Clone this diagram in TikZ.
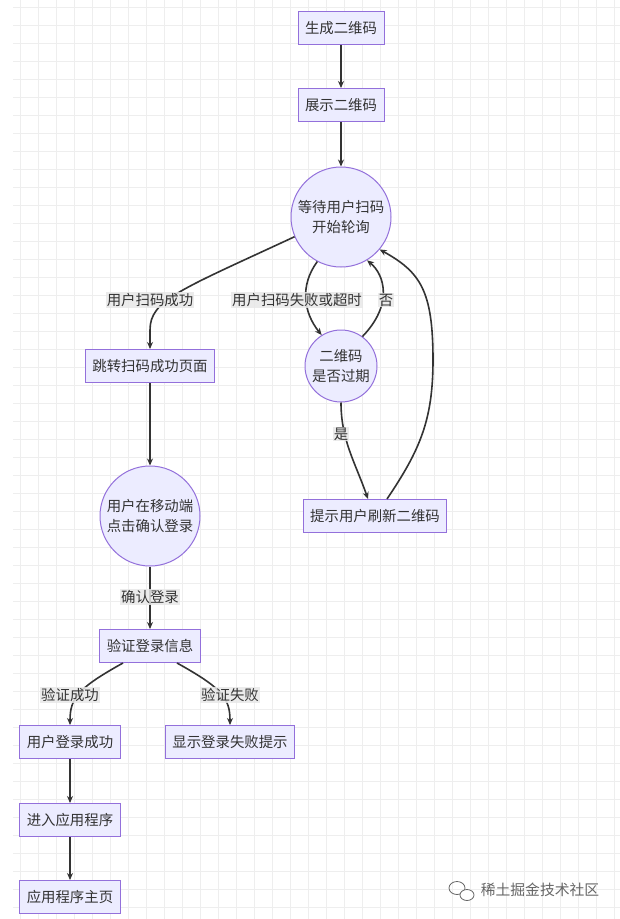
\documentclass[tikz,border=0pt]{standalone}
\usepackage{fontspec}
\newfontfamily\cjk{Noto Sans CJK SC}
\usetikzlibrary{arrows.meta}
\definecolor{nodefill}{HTML}{ECECFF}
\definecolor{nodeline}{HTML}{9370DB}
\definecolor{edgec}{HTML}{333333}
\definecolor{labfill}{HTML}{E8E8E8}
\definecolor{gridc}{HTML}{EEEEEE}
\definecolor{txt}{HTML}{333333}
\definecolor{wm}{HTML}{666666}
\begin{document}
\begin{tikzpicture}[x=1pt,y=-1pt,
 every node/.style={font=\cjk\fontsize{14.4}{20}\selectfont, text=txt},
 box/.style={draw=nodeline, fill=nodefill, line width=1pt, minimum height=33pt, inner xsep=7pt, inner ysep=0pt},
 circ/.style={draw=nodeline, fill=nodefill, line width=1pt, circle, inner sep=0pt, align=center},
 lab/.style={fill=labfill, fill opacity=0.85, text opacity=1, inner sep=1pt},
 conn/.style={draw=edgec, line width=1.6pt, -{Stealth[length=7pt,width=6pt]}},
 gridline/.style={draw=gridc, line width=0.8pt}
]
\useasboundingbox (0,0) rectangle (620,919);
\fill[white] (0,0) rectangle (620,919);
\foreach \x in {20,38,...,614} \draw[gridline] (\x,0) -- (\x,919);
\foreach \y in {7,25,...,907} \draw[gridline] (13,\y) -- (620,\y);

% nodes
\node[box] (gen) at (341,28) {生成二维码};
\node[box] (show) at (341,105) {展示二维码};
\node[circ, minimum size=100pt] (wait) at (341,217) {等待用户扫码\\开始轮询};
\node[box] (jump) at (150,366) {跳转扫码成功页面};
\node[circ, minimum size=72pt] (qr) at (341,366) {二维码\\是否过期};
\node[box] (refresh) at (375,516) {提示用户刷新二维码};
\node[circ, minimum size=100pt] (confirm) at (150,516) {用户在移动端\\点击确认登录};
\node[box] (verify) at (150,646) {验证登录信息};
\node[box] (ok) at (70,742) {用户登录成功};
\node[box] (fail) at (230,742) {显示登录失败提示};
\node[box] (enter) at (70,820) {进入应用程序};
\node[box] (home) at (70,897) {应用程序主页};

% edges
\draw[conn] (gen) -- (show);
\draw[conn] (show) -- (wait);
\draw[conn] (wait.203) .. controls (180,290) and (150,300) .. (150,330) -- (jump.north);
\draw[conn] (wait.242) .. controls (300,285) and (303,312) .. (qr.122);
\draw[conn] (qr.54) .. controls (393,305) and (385,275) .. (wait.301);
\draw[conn] (qr.south) .. controls (341,440) and (355,462) .. ([xshift=-7pt]refresh.north);
\draw[conn] ([xshift=12pt]refresh.north) .. controls (420,450) and (433,420) .. (433,360) .. controls (433,290) and (420,272) .. (wait.320);
\draw[conn] (jump) -- (confirm);
\draw[conn] (confirm) -- (verify);
\draw[conn] ([xshift=-27pt]verify.south) .. controls (78,688) and (70,698) .. (ok.north);
\draw[conn] ([xshift=27pt]verify.south) .. controls (222,688) and (230,698) .. (fail.north);
\draw[conn] (ok) -- (enter);
\draw[conn] (enter) -- (home);

% edge labels
\node[lab] (l1) at (150,300) {用户扫码成功};
\node[lab] (l2) at (297,300) {用户扫码失败或超时};
\node[lab] (l3) at (386,300) {否};
\node[lab] (l4) at (341,434) {是};
\node[lab] (l5) at (150,597) {确认登录};
\node[lab] (l6) at (70,695) {验证成功};
\node[lab] (l7) at (230,695) {验证失败};

% watermark
\draw[wm, line width=0.8pt] (457,888) ellipse [x radius=8pt, y radius=6.5pt];
\draw[wm, line width=0.8pt, fill=white] (467,895) ellipse [x radius=7pt, y radius=5.5pt];
\node[text=wm, font=\cjk\fontsize{14.8}{16}\selectfont] (wmtext) at (540,890) {稀土掘金技术社区};
\end{tikzpicture}
\end{document}
